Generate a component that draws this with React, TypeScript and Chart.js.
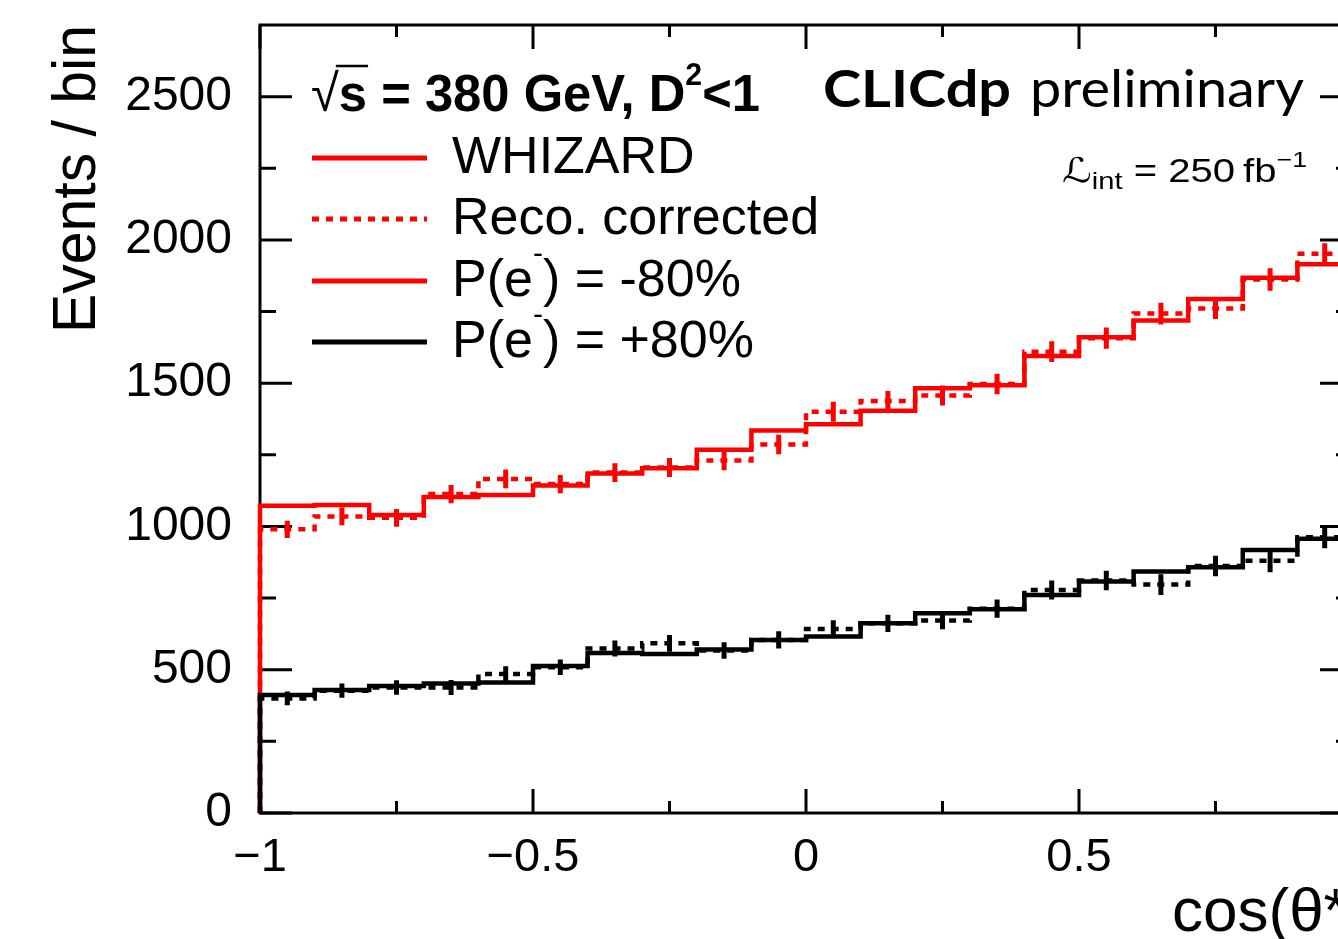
import React, { useEffect, useRef } from "react";
import { Chart, registerables } from "chart.js";

Chart.register(...registerables);

// ---------------- data ----------------
const binEdges = [-1, -0.9, -0.8, -0.7, -0.6, -0.5, -0.4, -0.3, -0.2, -0.1, 0, 0.1, 0.2, 0.3, 0.4, 0.5, 0.6, 0.7, 0.8, 0.9, 1.0];

// P(e-) = -80%  (red)
const whizardNeg = [1072, 1075, 1040, 1103, 1110, 1143, 1185, 1203, 1268, 1335, 1357, 1404, 1482, 1493, 1595, 1660, 1719, 1794, 1868, 1915];
const recoNeg = [990, 1035, 1030, 1113, 1166, 1148, 1188, 1206, 1230, 1286, 1400, 1438, 1457, 1497, 1610, 1657, 1743, 1761, 1862, 1952];
const recoNegErr = [30, 31, 31, 32, 33, 32, 33, 33, 34, 34, 35, 35, 35, 36, 36, 37, 38, 37, 39, 36];

// P(e-) = +80%  (black)
const whizardPos = [412, 429, 443, 452, 455, 513, 558, 555, 571, 604, 616, 662, 697, 711, 761, 808, 843, 858, 918, 957];
const recoPos = [400, 427, 438, 438, 485, 509, 574, 592, 567, 604, 642, 662, 672, 713, 778, 811, 797, 862, 880, 962];
const recoPosErr = [24, 25, 25, 26, 27, 27, 28, 29, 29, 30, 31, 30, 31, 32, 33, 34, 36, 36, 40, 38];

const xTickValues = [-1, -0.5, 0, 0.5, 1];
const xTickLabels = ["\u22121", "\u22120.5", "0", "0.5", "1"];
const xMinorTicks = [-0.75, -0.25, 0.25, 0.75];
const yTickValues = [0, 500, 1000, 1500, 2000, 2500];
const yTickLabels = ["0", "500", "1000", "1500", "2000", "2500"];
const yMinorTicks = [250, 750, 1250, 1750, 2250];

const legendEntries = [
  { label: "WHIZARD", color: "#ff0000", dash: [] as number[] },
  { label: "Reco. corrected", color: "#ff0000", dash: [7, 7] },
  { label: "P(e|-|) = -80%", color: "#ff0000", dash: [] as number[] },
  { label: "P(e|-|) = +80%", color: "#000000", dash: [] as number[] },
];

const RED = "#ff0000";
const BLACK = "#000000";
const HELV = '"Liberation Sans", Arial, Helvetica, sans-serif';
const GEO = 'Lato, "Open Sans", sans-serif';

// ---------------- helpers ----------------
function histPoints(vals: number[]) {
  const pts: { x: number; y: number }[] = [{ x: binEdges[0], y: 0 }];
  vals.forEach((v, i) => pts.push({ x: binEdges[i], y: v }));
  pts.push({ x: binEdges[binEdges.length - 1], y: vals[vals.length - 1] });
  pts.push({ x: binEdges[binEdges.length - 1], y: 0 });
  return pts;
}

function errPoints(vals: number[], errs: number[]) {
  const pts: { x: number; y: number | null }[] = [];
  vals.forEach((v, i) => {
    const c = (binEdges[i] + binEdges[i + 1]) / 2;
    pts.push({ x: c, y: v - errs[i] }, { x: c, y: v + errs[i] }, { x: c, y: null });
  });
  return pts;
}

type Run = { text: string; font: string; dy?: number; w?: number };

function drawRuns(ctx: CanvasRenderingContext2D, runs: Run[], x: number, baseline: number, targetWidth?: number) {
  let total = 0;
  runs.forEach((r) => {
    ctx.font = r.font;
    r.w = ctx.measureText(r.text).width;
    total += r.w;
  });
  const sx = targetWidth ? targetWidth / total : 1;
  const starts: number[] = [];
  ctx.save();
  ctx.translate(x, baseline);
  ctx.scale(sx, 1);
  ctx.textAlign = "left";
  ctx.textBaseline = "alphabetic";
  let cx = 0;
  runs.forEach((r) => {
    ctx.font = r.font;
    starts.push(x + cx * sx);
    ctx.fillText(r.text, cx, r.dy || 0);
    cx += r.w || 0;
  });
  ctx.restore();
  starts.push(x + cx * sx);
  return starts;
}

const framePlugin = {
  id: "frame",
  beforeDatasetsDraw(chart: any) {
    const { ctx, chartArea } = chart;
    const { left, right, top, bottom } = chartArea;
    const xs = chart.scales.x;
    const ys = chart.scales.y;
    ctx.save();
    ctx.strokeStyle = BLACK;
    ctx.lineWidth = 3;
    ctx.lineCap = "butt";
    ctx.strokeRect(left, top, right - left, bottom - top);
    const majY = 32, minY = 16, majX = 24, minX = 12;
    ctx.beginPath();
    yTickValues.forEach((v) => {
      const p = ys.getPixelForValue(v);
      ctx.moveTo(left, p); ctx.lineTo(left + majY, p);
      ctx.moveTo(right, p); ctx.lineTo(right - majY, p);
    });
    yMinorTicks.forEach((v) => {
      const p = ys.getPixelForValue(v);
      ctx.moveTo(left, p); ctx.lineTo(left + minY, p);
      ctx.moveTo(right, p); ctx.lineTo(right - minY, p);
    });
    xTickValues.forEach((v) => {
      const p = xs.getPixelForValue(v);
      ctx.moveTo(p, bottom); ctx.lineTo(p, bottom - majX);
      ctx.moveTo(p, top); ctx.lineTo(p, top + majX);
    });
    xMinorTicks.forEach((v) => {
      const p = xs.getPixelForValue(v);
      ctx.moveTo(p, bottom); ctx.lineTo(p, bottom - minX);
      ctx.moveTo(p, top); ctx.lineTo(p, top + minX);
    });
    ctx.stroke();
    ctx.restore();
  },
};

const textPlugin = {
  id: "texts",
  afterDraw(chart: any) {
    const { ctx, chartArea } = chart;
    ctx.save();
    ctx.fillStyle = BLACK;

    // y-axis title (rotated, right-aligned at top of frame)
    ctx.save();
    ctx.translate(95, chartArea.top);
    ctx.rotate(-Math.PI / 2);
    ctx.font = `62px ${HELV}`;
    const tw = ctx.measureText("Events / bin").width;
    ctx.scale(308 / tw, 1);
    ctx.textAlign = "right";
    ctx.textBaseline = "alphabetic";
    ctx.fillText("Events / bin", 0, 0);
    ctx.restore();

    // x-axis title
    ctx.font = `62px ${HELV}`;
    ctx.textAlign = "left";
    ctx.textBaseline = "alphabetic";
    ctx.fillText("cos(\u03b8*)", 1172, 931);

    // legend header
    const bold = `bold 52px ${HELV}`;
    const starts = drawRuns(
      ctx,
      [
        { text: "\u221a", font: `52px ${HELV}` },
        { text: "s", font: bold },
        { text: " = 380 GeV, D", font: bold },
        { text: "2", font: `bold 31px ${HELV}`, dy: -26 },
        { text: "<1", font: bold },
      ],
      311,
      111,
      449
    );
    ctx.strokeStyle = BLACK;
    ctx.lineWidth = 2.5;
    ctx.beginPath();
    ctx.moveTo(starts[1] - 3, 66);
    ctx.lineTo(starts[2] + 1, 66);
    ctx.stroke();

    // legend entries
    const baselines = [173, 234, 296, 357];
    legendEntries.forEach((e, i) => {
      const ly = baselines[i] - 15;
      ctx.save();
      ctx.strokeStyle = e.color;
      ctx.lineWidth = 5;
      ctx.setLineDash(e.dash);
      ctx.beginPath();
      ctx.moveTo(312, ly);
      ctx.lineTo(427, ly);
      ctx.stroke();
      ctx.restore();
      const parts = e.label.split("|");
      const reg = `52px ${HELV}`;
      if (parts.length === 1) {
        drawRuns(ctx, [{ text: e.label, font: reg }], 452, baselines[i]);
      } else {
        drawRuns(
          ctx,
          [
            { text: parts[0], font: reg },
            { text: parts[1], font: `30px ${HELV}`, dy: -33 },
            { text: parts[2], font: reg },
          ],
          452,
          baselines[i]
        );
      }
    });

    // CLICdp preliminary
    drawRuns(ctx, [{ text: "CLICdp", font: `bold 52px ${GEO}` }], 823, 107, 188);
    drawRuns(ctx, [{ text: "preliminary", font: `52px ${GEO}` }], 1030, 107, 274);

    // luminosity
    drawRuns(
      ctx,
      [
        { text: "\u2112", font: `34px "DejaVu Serif", "DejaVu Sans", serif` },
        { text: "int", font: `24px ${HELV}`, dy: 7 },
        { text: " = 250\u2009fb", font: `33px ${HELV}` },
        { text: "\u22121", font: `22px ${HELV}`, dy: -15 },
      ],
      1062,
      182,
      245
    );

    ctx.restore();
  },
};

export default function App() {
  const canvasRef = useRef<HTMLCanvasElement | null>(null);

  useEffect(() => {
    if (!canvasRef.current) return;
    const common = { pointRadius: 0, pointHoverRadius: 0, tension: 0, clip: false as any, fill: false };
    const chart = new Chart(canvasRef.current, {
      type: "line",
      data: {
        datasets: [
          { ...common, label: "P+ WHIZARD", data: histPoints(whizardPos), borderColor: BLACK, borderWidth: 4.5, stepped: "before" },
          { ...common, label: "P+ reco", data: histPoints(recoPos), borderColor: BLACK, borderWidth: 4.5, borderDash: [7, 7], stepped: "before" },
          { ...common, label: "P+ reco err", data: errPoints(recoPos, recoPosErr), borderColor: BLACK, borderWidth: 5, spanGaps: false },
          { ...common, label: "P- WHIZARD", data: histPoints(whizardNeg), borderColor: RED, borderWidth: 4.5, stepped: "before" },
          { ...common, label: "P- reco", data: histPoints(recoNeg), borderColor: RED, borderWidth: 4.5, borderDash: [7, 7], stepped: "before" },
          { ...common, label: "P- reco err", data: errPoints(recoNeg, recoNegErr), borderColor: RED, borderWidth: 5, spanGaps: false },
        ] as any,
      },
      options: {
        responsive: false,
        animation: false,
        events: [],
        layout: { padding: { top: 25, right: 48, bottom: 0, left: 0 } },
        plugins: { legend: { display: false }, tooltip: { enabled: false }, title: { display: false } },
        scales: {
          x: {
            type: "linear",
            min: -1,
            max: 1,
            position: "bottom",
            grid: { display: false, drawTicks: false },
            border: { display: false },
            afterBuildTicks: (s: any) => {
              s.ticks = xTickValues.map((v) => ({ value: v }));
            },
            afterFit: (s: any) => {
              s.height = 126;
              s.paddingLeft = 0;
              s.paddingRight = 0;
            },
            ticks: {
              autoSkip: false,
              maxRotation: 0,
              minRotation: 0,
              padding: 17,
              color: BLACK,
              font: { family: HELV, size: 47 },
              callback: (_v: any, i: number) => xTickLabels[i],
            },
          },
          y: {
            type: "linear",
            min: 0,
            max: 2750,
            position: "left",
            grid: { display: false, drawTicks: false },
            border: { display: false },
            afterBuildTicks: (s: any) => {
              s.ticks = yTickValues.map((v) => ({ value: v }));
            },
            afterFit: (s: any) => {
              s.width = 260;
              s.paddingTop = 0;
              s.paddingBottom = 0;
            },
            ticks: {
              autoSkip: false,
              padding: 28,
              color: BLACK,
              font: { family: HELV, size: 48 },
              callback: (_v: any, i: number) => yTickLabels[i],
            },
          },
        },
      } as any,
      plugins: [framePlugin, textPlugin],
    });
    return () => chart.destroy();
  }, []);

  return (
    <div style={{ position: "fixed", left: 0, top: 0, width: 1338, height: 939, overflow: "hidden", background: "#fff" }}>
      <canvas ref={canvasRef} width={1400} height={939} style={{ display: "block", width: 1400, height: 939 }} />
    </div>
  );
}
